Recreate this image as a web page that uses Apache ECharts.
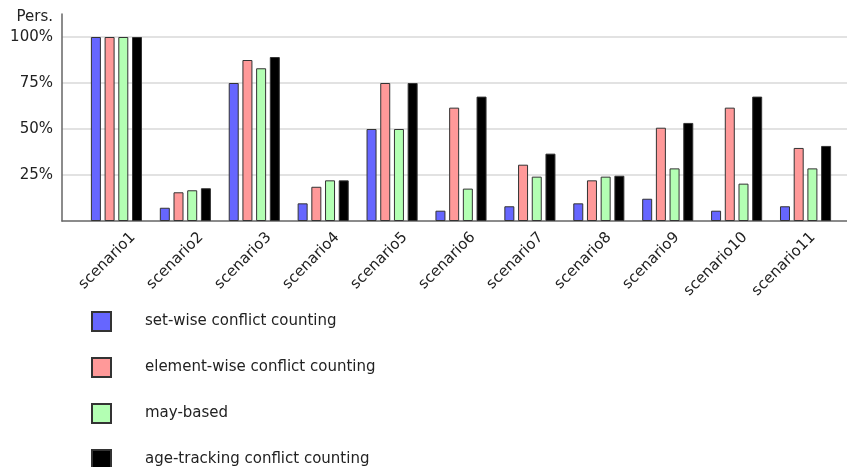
<!DOCTYPE html>
<html>
<head>
<meta charset="utf-8">
<script src="https://cdn.jsdelivr.net/npm/echarts@6/dist/echarts.min.js"></script>
<style>
  html, body { margin: 0; padding: 0; background: #fff; }
  #main { width: 847px; height: 467px; }
</style>
</head>
<body>
<div id="main"></div>
<script>
const categories = [
  "scenario1", "scenario2", "scenario3", "scenario4", "scenario5", "scenario6",
  "scenario7", "scenario8", "scenario9", "scenario10", "scenario11",
];
const seriesNames = [
  "set-wise conflict counting",
  "element-wise conflict counting",
  "may-based",
  "age-tracking conflict counting",
];
const setWise = [100, 7.2, 75, 9.6, 50, 5.6, 8.0, 9.6, 12.1, 5.6, 8.0];
const elementWise = [100, 15.6, 87.5, 18.6, 75, 61.6, 30.6, 22.1, 50.7, 61.6, 39.7];
const mayBased = [100, 16.7, 83, 22.1, 50, 17.6, 24.1, 24.1, 28.6, 20.3, 28.6];
const ageTracking = [100, 17.8, 89.1, 22.1, 75, 67.6, 36.6, 24.6, 53.3, 67.6, 40.8];
const yTicks = [25, 50, 75, 100];

const colors = ["#6666ff", "#ff9999", "#b3ffb3", "#000000"];
const allValues = [setWise, elementWise, mayBased, ageTracking];
const font = "DejaVu Sans";

const myChart = echarts.init(document.getElementById("main"));

myChart.setOption({
  animation: false,
  textStyle: { fontFamily: font },
  grid: [
    // bars
    { left: 82, right: 7, top: 14, bottom: 246 },
    // axis frame + gridlines
    { left: 62, right: 0, top: 14, bottom: 246 },
    // category labels, nudged right like in the original
    { left: 99, right: -10, top: 14, bottom: 246 },
  ],
  legend: {
    orient: "vertical",
    left: 86,
    top: 306,
    height: 300,
    icon: "rect",
    itemWidth: 19,
    itemHeight: 19,
    itemGap: 25,
    textStyle: { fontSize: 15, color: "#222", padding: [0, 0, 0, 29] },
    data: seriesNames,
  },
  xAxis: [
    {
      type: "category",
      gridIndex: 0,
      data: categories,
      axisLine: { show: false },
      axisTick: { show: false },
      axisLabel: { show: false },
    },
    {
      type: "value",
      gridIndex: 1,
      min: 0,
      max: 1,
      axisLine: { show: true, lineStyle: { color: "#666", width: 1.5 } },
      axisTick: { show: false },
      axisLabel: { show: false },
      splitLine: { show: false },
    },
    {
      type: "category",
      gridIndex: 2,
      data: categories,
      axisLine: { show: false },
      axisTick: { show: false },
      axisLabel: {
        interval: 0,
        rotate: 45,
        margin: 14,
        fontSize: 15,
        color: "#222",
        fontFamily: font,
      },
    },
  ],
  yAxis: [
    { type: "value", gridIndex: 0, min: 0, max: 112.5, show: false },
    {
      type: "value",
      gridIndex: 1,
      min: 0,
      max: 112.5,
      interval: 25,
      name: "Pers.",
      nameLocation: "end",
      nameGap: -3,
      nameTextStyle: {
        fontSize: 15,
        color: "#222",
        align: "right",
        verticalAlign: "middle",
        padding: [0, 9, 0, 0],
      },
      axisLine: { show: true, lineStyle: { color: "#666", width: 1.5 } },
      axisTick: { show: false },
      axisLabel: {
        fontSize: 15,
        color: "#222",
        margin: 9,
        formatter: (v) => (yTicks.includes(v) ? v + "%" : ""),
      },
      splitLine: {
        show: true,
        showMinLine: false,
        showMaxLine: false,
        lineStyle: { color: "#d9d9d9", width: 1.5 },
      },
    },
    { type: "value", gridIndex: 2, min: 0, max: 112.5, show: false },
  ],
  series: seriesNames.map((name, i) => ({
    name: name,
    type: "bar",
    xAxisIndex: 0,
    yAxisIndex: 0,
    data: allValues[i],
    barWidth: 10,
    barGap: "37%",
    itemStyle: {
      color: colors[i],
      borderColor: "#333",
      borderWidth: 1,
    },
  })),
});
</script>
</body>
</html>
